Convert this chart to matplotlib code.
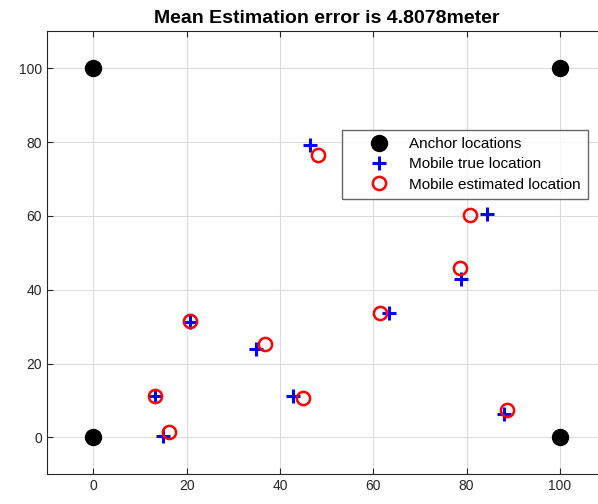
import matplotlib
matplotlib.use("Agg")
import matplotlib.pyplot as plt

# anchors at the four corners
anchor_x = [0, 100, 0, 100]
anchor_y = [100, 100, 0, 0]

# mobile nodes: true vs estimated positions
true_x = [46.4, 84.3, 78.7, 63.3, 88.0, 20.8, 34.9, 13.2, 14.9, 42.8]
true_y = [79.1, 60.6, 42.9, 33.8, 6.2, 31.3, 23.8, 11.1, 0.3, 11.1]
est_x = [48.1, 80.8, 78.6, 61.4, 88.7, 20.8, 36.8, 13.2, 16.3, 44.9]
est_y = [76.6, 60.3, 46.0, 33.6, 7.3, 31.5, 25.2, 11.1, 1.5, 10.7]

xticks = [0, 20, 40, 60, 80, 100]
yticks = [0, 20, 40, 60, 80, 100]

plt.rcParams["font.family"] = ["Liberation Sans", "DejaVu Sans"]

fig = plt.figure(figsize=(5.98, 5.04), dpi=100)
ax = fig.add_axes([0.078, 0.0591, 0.9364, 0.8786])

ax.plot(anchor_x, anchor_y, "o", color="black", markersize=11.5,
        label="Anchor locations")
ax.plot(true_x, true_y, "+", color="blue", markersize=10, markeredgewidth=2.2,
        label="Mobile true location")
ax.plot(est_x, est_y, "o", color="red", markerfacecolor="none",
        markersize=9.5, markeredgewidth=1.8, label="Mobile estimated location")

ax.set_xlim(-10, 110)
ax.set_ylim(-10, 110)
ax.set_xticks(xticks)
ax.set_yticks(yticks)
ax.grid(True, color="#dcdcdc", linewidth=0.8)
ax.set_axisbelow(True)
ax.tick_params(direction="in", length=4, labelsize=10, colors="#262626",
               top=True, right=True)
for s in ax.spines.values():
    s.set_color("#262626")
    s.set_linewidth(0.8)

ax.set_title("Mean Estimation error is 4.8078meter", fontsize=14,
             fontweight="bold", pad=6)

leg = ax.legend(loc="upper left", bbox_to_anchor=(342 / 598, 1 - 130 / 504),
                bbox_transform=fig.transFigure, fontsize=11, frameon=True,
                fancybox=False, borderpad=0.45, labelspacing=0.42,
                handlelength=3.9, handletextpad=0.05, borderaxespad=0)
leg.get_frame().set_edgecolor("#404040")
leg.get_frame().set_linewidth(1.0)

fig.savefig("out.png", dpi=100)
